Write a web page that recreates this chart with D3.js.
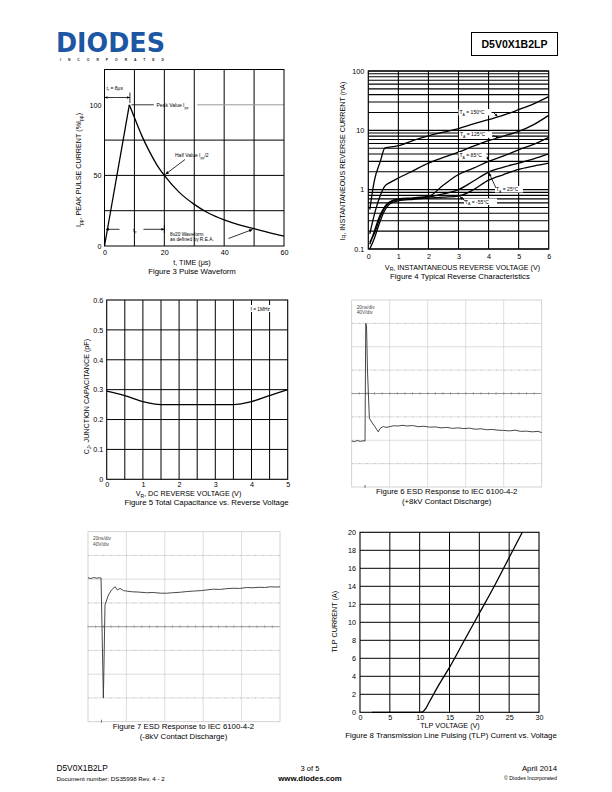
<!DOCTYPE html>
<html><head><meta charset="utf-8">
<script src="https://cdn.jsdelivr.net/npm/d3@7"></script>
<style>
html,body{margin:0;padding:0;background:#fff}
svg{display:block;font-family:"Liberation Sans",Arial,sans-serif}
</style></head><body>
<svg id="page" width="612" height="792"></svg>
<script>
// ---------- DATA ----------
// Figure 3 Pulse waveform
const pulseTime = [0, 8.3, 10, 12.5, 15, 17.5, 20, 25, 30, 35, 40, 45, 50, 55, 60];
const pulseCurrent = [0, 100, 91, 78, 67, 57.5, 50, 38, 29.5, 23, 18.5, 15, 12.3, 9.5, 7];
const fig3XTicks = [0, 20, 40, 60];
const fig3YTicks = [0, 50, 100];

// Figure 4 Reverse characteristics (nA)
const revVoltage = [0.05, 0.2, 0.4, 0.55, 0.7, 1, 1.5, 2, 2.5, 3, 3.5, 4, 4.5, 5, 5.5, 6];
const irT150 = [0.46, 1.4, 3.0, 5.0, 5.2, 5.5, 6.8, 8.1, 9.3, 10.7, 12.8, 15.1, 18, 22.3, 28, 37];
const irT125 = [0.18, 0.38, 0.8, 1.15, 1.3, 1.57, 2.1, 2.8, 3.5, 4.3, 5.4, 6.7, 8, 9.6, 12.5, 17.9];
const irT85 = [0.12, 0.2, 0.38, 0.52, 0.62, 0.7, 0.73, 0.77, 1.2, 1.8, 2.3, 3.0, 3.7, 4.7, 5.8, 7.6];
const irT25 = [0.13, 0.18, 0.35, 0.5, 0.6, 0.68, 0.71, 0.75, 0.85, 1.0, 1.4, 1.98, 2.4, 2.8, 3.3, 4.0];
const irTm55 = [0.1, 0.15, 0.3, 0.45, 0.57, 0.65, 0.69, 0.72, 0.75, 0.78, 1.0, 1.45, 1.8, 2.2, 2.5, 2.8];
const tempLabels = ["150°C", "125°C", "85°C", "25°C", "-55°C"];
const fig4XTicks = [0, 1, 2, 3, 4, 5, 6];
const fig4YTicks = [0.1, 1, 10, 100];

// Figure 5 Capacitance
const capVoltage = [0, 0.5, 1, 1.5, 2, 2.5, 3, 3.5, 4, 4.5, 5];
const capValue = [0.295, 0.28, 0.26, 0.25, 0.25, 0.25, 0.25, 0.25, 0.26, 0.28, 0.30];
const fig5XTicks = [0, 1, 2, 3, 4, 5];
const fig5YTicks = [0, 0.1, 0.2, 0.3, 0.4, 0.5, 0.6];

// Figure 6 ESD +8kV (time ns, divisions)
const esdPosTime = [0, 1.5, 3, 4.5, 6, 7, 7.4, 7.8, 8.3, 9.3, 10.5, 12.3, 14, 14.9, 16.6, 18, 20, 22, 24.5, 27, 29, 32, 35, 38, 41, 44, 47, 50, 53, 56, 59, 62, 65, 68, 71, 74, 77, 80, 83, 86, 89, 92, 95, 98, 100];
const esdPosVolt = [-2.03, -2.06, -2.01, -2.05, -2.02, -2.04, 3.0, 2.9, 1.0, -1.07, -1.22, -1.43, -1.64, -1.5, -1.41, -1.45, -1.42, -1.38, -1.39, -1.36, -1.39, -1.37, -1.42, -1.4, -1.44, -1.43, -1.47, -1.45, -1.49, -1.47, -1.5, -1.48, -1.53, -1.51, -1.55, -1.54, -1.57, -1.58, -1.6, -1.57, -1.62, -1.61, -1.64, -1.62, -1.67];

// Figure 7 ESD -8kV (time ns, divisions)
const esdNegTime = [0, 1.5, 3, 4.5, 6, 6.8, 7.3, 8.0, 8.3, 8.85, 10.6, 12.3, 14.1, 15.3, 16.7, 18.5, 20.1, 23, 26, 30.5, 34, 38, 41, 44, 48, 51.4, 55, 59, 62, 65.3, 69, 72, 76, 79, 82.6, 86, 89, 92, 95, 98, 100];
const esdNegVolt = [2.06, 2.03, 2.07, 2.04, 2.06, 2.05, -0.07, -3.0, -1.75, 0.91, 1.33, 1.55, 1.68, 1.55, 1.61, 1.52, 1.5, 1.47, 1.46, 1.43, 1.44, 1.41, 1.41, 1.43, 1.45, 1.48, 1.5, 1.52, 1.55, 1.58, 1.57, 1.6, 1.62, 1.61, 1.65, 1.64, 1.66, 1.65, 1.68, 1.67, 1.68];

// Figure 8 TLP
const tlpVoltage = [2, 10, 10.5, 11, 11.5, 12, 13, 14, 15, 17.5, 20, 22.5, 25, 27.2];
const tlpCurrent = [0, 0, 0.05, 0.4, 1.0, 1.6, 2.8, 3.9, 5, 8, 11, 14, 17.2, 20];
const fig8XTicks = [0, 5, 10, 15, 20, 25, 30];
const fig8YTicks = [0, 2, 4, 6, 8, 10, 12, 14, 16, 18, 20];

// ---------- DRAWING ----------
const svg = d3.select("#page");
svg.append("rect").attr("width", 612).attr("height", 792).attr("fill", "#fff");
const FONT = '"Liberation Sans", Arial, sans-serif';
const FS = 7.2;
const CAP = 7.8;
const intFmt = d3.format("d");

function styleAxis(g, fs) {
  g.attr("font-family", FONT).attr("font-size", fs);
  g.select(".domain").remove();
  g.selectAll(".tick line").remove();
  g.selectAll(".tick text").attr("fill", "#000");
}
function text(x, y, str, opts = {}) {
  const t = svg.append("text").attr("x", x).attr("y", y)
    .attr("font-size", opts.size || FS).attr("fill", opts.fill || "#000")
    .attr("text-anchor", opts.anchor || "start")
    .attr("font-family", FONT);
  if (opts.weight) t.attr("font-weight", opts.weight);
  if (opts.rotate) t.attr("transform", `rotate(-90,${x},${y})`);
  if (opts.parts) {
    opts.parts.forEach(p => {
      const ts = t.append("tspan").text(p.t);
      if (p.sub) ts.attr("font-size", (opts.size || FS) * 0.7).attr("dy", 1.6);
      if (p.back) ts.attr("dy", -1.6);
    });
  } else t.text(str);
  return t;
}
function arrowHead(g, x1, y1, x2, y2, size) {
  const a = Math.atan2(y2 - y1, x2 - x1);
  const s = size || 3;
  const p = [[x2, y2],
    [x2 - s * Math.cos(a) + s * 0.45 * Math.sin(a), y2 - s * Math.sin(a) - s * 0.45 * Math.cos(a)],
    [x2 - s * Math.cos(a) - s * 0.45 * Math.sin(a), y2 - s * Math.sin(a) + s * 0.45 * Math.cos(a)]];
  g.append("path").attr("d", "M" + p.map(d => d.join(",")).join("L") + "Z").attr("fill", "#000");
}
function arrowLine(g, x1, y1, x2, y2, size, w) {
  g.append("line").attr("x1", x1).attr("y1", y1).attr("x2", x2).attr("y2", y2)
    .attr("stroke", "#000").attr("stroke-width", w || 0.8);
  arrowHead(g, x1, y1, x2, y2, size);
}

// ---- Header ----
svg.append("text").attr("x", 56).attr("y", 51.5).text("DIODES")
  .attr("font-family", '"DejaVu Sans", sans-serif').attr("font-weight", "bold")
  .attr("font-size", 27).attr("fill", "#1d56a3")
  .attr("textLength", 109).attr("lengthAdjust", "spacingAndGlyphs");
svg.append("text").attr("x", 60).attr("y", 60.5).text("INCORPORATED")
  .attr("font-family", FONT).attr("font-weight", "bold").attr("font-size", 3.4).attr("fill", "#222")
  .attr("textLength", 104).attr("lengthAdjust", "spacing");
svg.append("rect").attr("x", 471.5).attr("y", 32.5).attr("width", 86).attr("height", 23)
  .attr("fill", "none").attr("stroke", "#000").attr("stroke-width", 1);
text(514.5, 48, "D5V0X1B2LP", { size: 10.5, weight: "bold", anchor: "middle" });

// ---- Figure 3 ----
{
  const x = d3.scaleLinear().domain([0, 60]).range([104.5, 284]);
  const y = d3.scaleLinear().domain([0, 125]).range([246, 69.5]);
  const g = svg.append("g");
  [10, 20, 30, 40, 50].forEach(v => g.append("line").attr("x1", x(v)).attr("x2", x(v)).attr("y1", y(0)).attr("y2", y(125)).attr("stroke", "#000").attr("stroke-width", 1));
  [25, 50, 75].forEach(v => g.append("line").attr("x1", x(0)).attr("x2", x(60)).attr("y1", y(v)).attr("y2", y(v)).attr("stroke", "#000").attr("stroke-width", 1));
  g.append("line").attr("x1", x(9)).attr("x2", x(16.5)).attr("y1", y(100)).attr("y2", y(100)).attr("stroke", "#000").attr("stroke-width", 0.8);
  g.append("line").attr("x1", x(31)).attr("x2", x(60)).attr("y1", y(100)).attr("y2", y(100)).attr("stroke", "#999").attr("stroke-width", 1);
  g.append("rect").attr("x", x(0)).attr("y", y(125)).attr("width", x(60) - x(0)).attr("height", y(0) - y(125)).attr("fill", "none").attr("stroke", "#000").attr("stroke-width", 1);
  const pts = pulseTime.map((t, i) => [t, pulseCurrent[i]]);
  const line = d3.line().x(d => x(d[0])).y(d => y(d[1]));
  g.append("path").attr("d", line(pts.slice(0, 2))).attr("fill", "none").attr("stroke", "#000").attr("stroke-width", 1.3);
  g.append("path").attr("d", line.curve(d3.curveMonotoneX)(pts.slice(1))).attr("fill", "none").attr("stroke", "#000").attr("stroke-width", 1.3);
  svg.append("g").attr("transform", `translate(0,${y(0)})`).call(d3.axisBottom(x).tickValues(fig3XTicks).tickFormat(intFmt).tickSize(0).tickPadding(4)).call(a => styleAxis(a, FS));
  svg.append("g").attr("transform", `translate(${x(0)},0)`).call(d3.axisLeft(y).tickValues(fig3YTicks).tickFormat(intFmt).tickSize(0).tickPadding(3)).call(a => styleAxis(a, FS));
  const an = svg.append("g");
  text(106.5, 89.5, null, { size: 5, parts: [{ t: "t" }, { t: "r", sub: true }, { t: " = 8μs", back: true }] });
  arrowLine(an, x(4), 97.5, x(0), 97.5, 3);
  arrowLine(an, x(4), 97.5, x(8.5), 97.5, 3);
  an.append("line").attr("x1", x(8.5)).attr("x2", x(8.5)).attr("y1", 92.5).attr("y2", 103).attr("stroke", "#000").attr("stroke-width", 0.8);
  text(156.5, 107, null, { size: 5, parts: [{ t: "Peak Value I" }, { t: "pp", sub: true }] });
  text(175, 157, null, { size: 5, parts: [{ t: "Half Value I" }, { t: "pp", sub: true }, { t: "/2", back: true }] });
  arrowLine(an, 185, 159.5, x(20) + 1, y(50) - 1, 3.5);
  arrowLine(an, x(5), 229.3, x(0.5), 229.3, 3);
  arrowLine(an, x(13), 229.3, x(20), 229.3, 3);
  an.append("line").attr("x1", x(20)).attr("x2", x(20)).attr("y1", 225).attr("y2", 233).attr("stroke", "#000").attr("stroke-width", 0.8);
  text(133, 231.5, null, { size: 5, parts: [{ t: "t" }, { t: "p", sub: true }] });
  text(170, 236.3, "8x20 Waveform", { size: 4.8 });
  text(170, 241, "as defined by R.E.A.", { size: 4.8 });
  arrowLine(an, 228.5, 238.5, x(49.5), y(12.8) + 1.5, 3.5);
  text(81, 170, null, { rotate: true, anchor: "middle", parts: [{ t: "I" }, { t: "pp", sub: true }, { t: ", PEAK PULSE CURRENT (%I", back: true }, { t: "pp", sub: true }, { t: ")", back: true }] });
  text(192, 265.3, "t, TIME (μs)", { anchor: "middle" });
  text(192, 274.2, "Figure 3 Pulse Waveform", { anchor: "middle", size: CAP });
}

// ---- Figure 4 ----
{
  const x = d3.scaleLinear().domain([0, 6]).range([368.3, 548.7]);
  const y = d3.scaleLog().domain([0.1, 100]).range([249, 71]);
  const g = svg.append("g");
  y.ticks().forEach(v => g.append("line").attr("x1", x(0)).attr("x2", x(6)).attr("y1", y(v)).attr("y2", y(v)).attr("stroke", "#000").attr("stroke-width", 1.1));
  [1, 2, 3, 4, 5].forEach(v => g.append("line").attr("x1", x(v)).attr("x2", x(v)).attr("y1", y(0.1)).attr("y2", y(100)).attr("stroke", "#000").attr("stroke-width", 1.1));
  g.append("rect").attr("x", x(0)).attr("y", y(100)).attr("width", x(6) - x(0)).attr("height", y(0.1) - y(100)).attr("fill", "none").attr("stroke", "#000").attr("stroke-width", 1.2);
  const series = [irT150, irT125, irT85, irT25, irTm55];
  const line = d3.line().x((d, i) => x(revVoltage[i])).y(d => y(d)).curve(d3.curveMonotoneX);
  series.forEach(s => g.append("path").attr("d", line(s)).attr("fill", "none").attr("stroke", "#000").attr("stroke-width", 1.3));
  const labs = [
    { x: 459.5, y: 114, ax1: 494, ay1: 113, ax2: x(4.3), ay2: y(16.5) - 1 },
    { x: 460, y: 136.3, ax1: 493, ay1: 135.5, ax2: x(4.35), ay2: y(7.2) - 1 },
    { x: 459.5, y: 157, ax1: 487, ay1: 156.5, ax2: x(4.0), ay2: y(3.0) - 1 },
    { x: 496, y: 191, ax1: 496, ay1: 188, ax2: x(4.0) + 0.5, ay2: y(1.98) + 1 },
    { x: 465, y: 203.5, ax1: 466, ay1: 201.5, ax2: x(3.05), ay2: y(0.79) + 1 }
  ];
  labs.forEach((l, i) => {
    const w = i === 2 || i === 3 ? 28 : 33;
    svg.append("rect").attr("x", l.x - 1).attr("y", l.y - 5).attr("width", w).attr("height", 6.5).attr("fill", "#fff");
    text(l.x, l.y, null, { size: 5, parts: [{ t: "T" }, { t: "A", sub: true }, { t: " = " + tempLabels[i], back: true }] });
    arrowLine(svg, l.ax1, l.ay1, l.ax2, l.ay2, 3);
  });
  svg.append("g").attr("transform", `translate(0,${y(0.1)})`).call(d3.axisBottom(x).tickValues(fig4XTicks).tickFormat(intFmt).tickSize(0).tickPadding(5)).call(a => styleAxis(a, FS));
  svg.append("g").attr("transform", `translate(${x(0)},0)`).call(d3.axisLeft(y).tickValues(fig4YTicks).tickFormat(d3.format("~g")).tickSize(0).tickPadding(4)).call(a => styleAxis(a, FS));
  text(344.5, 161, null, { rotate: true, anchor: "middle", parts: [{ t: "I" }, { t: "R", sub: true }, { t: ", INSTANTANEOUS REVERSE CURRENT (nA)", back: true }] });
  text(462.5, 269.5, null, { anchor: "middle", parts: [{ t: "V" }, { t: "R", sub: true }, { t: ", INSTANTANEOUS REVERSE VOLTAGE (V)", back: true }] });
  text(460, 278.6, "Figure 4 Typical Reverse Characteristics", { anchor: "middle", size: CAP });
}

// ---- Figure 5 ----
{
  const x = d3.scaleLinear().domain([0, 5]).range([106.7, 287.7]);
  const y = d3.scaleLinear().domain([0, 0.6]).range([479.3, 300]);
  const g = svg.append("g");
  d3.range(0.5, 5, 0.5).forEach(v => g.append("line").attr("x1", x(v)).attr("x2", x(v)).attr("y1", y(0)).attr("y2", y(0.6)).attr("stroke", "#000").attr("stroke-width", 1));
  [0.1, 0.2, 0.3, 0.4, 0.5].forEach(v => g.append("line").attr("x1", x(0)).attr("x2", x(5)).attr("y1", y(v)).attr("y2", y(v)).attr("stroke", "#000").attr("stroke-width", 1));
  g.append("rect").attr("x", x(0)).attr("y", y(0.6)).attr("width", x(5) - x(0)).attr("height", y(0) - y(0.6)).attr("fill", "none").attr("stroke", "#000").attr("stroke-width", 1.1);
  g.append("path").attr("d", d3.line().x((d, i) => x(capVoltage[i])).y(d => y(d)).curve(d3.curveMonotoneX)(capValue))
    .attr("fill", "none").attr("stroke", "#000").attr("stroke-width", 1.3);
  g.append("rect").attr("x", 249).attr("y", 305).attr("width", 25).attr("height", 7).attr("fill", "#fff");
  text(250.5, 310.5, "f = 1MHz", { size: 4.8 });
  svg.append("g").attr("transform", `translate(0,${y(0)})`).call(d3.axisBottom(x).tickValues(fig5XTicks).tickFormat(intFmt).tickSize(0).tickPadding(2.6)).call(a => styleAxis(a, FS));
  svg.append("g").attr("transform", `translate(${x(0)},0)`).call(d3.axisLeft(y).tickValues(fig5YTicks).tickFormat(d => d === 0 ? "0" : d3.format(".1f")(d)).tickSize(0).tickPadding(3.5)).call(a => styleAxis(a, FS));
  text(89, 396.5, null, { rotate: true, anchor: "middle", parts: [{ t: "C" }, { t: "J", sub: true }, { t: ", JUNCTION CAPACITANCE (pF)", back: true }] });
  text(188.5, 496, null, { anchor: "middle", parts: [{ t: "V" }, { t: "R", sub: true }, { t: ", DC REVERSE VOLTAGE (V)", back: true }] });
  text(206.5, 504.8, "Figure 5 Total Capacitance vs. Reverse Voltage", { anchor: "middle", size: CAP });
}

// ---- Scope helper ----
function scope(x0, x1, y0, y1, times, volts, trigX) {
  const x = d3.scaleLinear().domain([0, 100]).range([x0, x1]);
  const y = d3.scaleLinear().domain([-4, 4]).range([y1, y0]);
  const g = svg.append("g");
  d3.range(20, 100, 20).forEach(v => g.append("line").attr("x1", x(v)).attr("x2", x(v)).attr("y1", y(-4)).attr("y2", y(4)).attr("stroke", "#d4d4d4").attr("stroke-width", 0.8));
  d3.range(-3, 4, 1).forEach(v => g.append("line").attr("x1", x(0)).attr("x2", x(100)).attr("y1", y(v)).attr("y2", y(v))
    .attr("stroke", v === 0 ? "#8a8a8a" : "#d4d4d4").attr("stroke-width", v === 0 ? 0.9 : 0.8));
  [3, 1, -1, -3].forEach(v => g.append("line").attr("x1", x(0)).attr("x2", x(100)).attr("y1", y(v)).attr("y2", y(v))
    .attr("stroke", "#b0b0b0").attr("stroke-width", 1).attr("stroke-dasharray", "0.8,6.8"));
  d3.range(0, 100, 4).forEach(v => g.append("line").attr("x1", x(v)).attr("x2", x(v)).attr("y1", y(0) - 1.5).attr("y2", y(0) + 1.5).attr("stroke", "#8a8a8a").attr("stroke-width", 0.6));
  g.append("rect").attr("x", x(0)).attr("y", y(4)).attr("width", x(100) - x(0)).attr("height", y(-4) - y(4)).attr("fill", "none").attr("stroke", "#c8c8c8").attr("stroke-width", 0.8);
  g.append("line").attr("x1", x(trigX)).attr("x2", x(trigX)).attr("y1", y(-4) - 2).attr("y2", y(-4) + 1).attr("stroke", "#555").attr("stroke-width", 0.8);
  g.append("path").attr("d", d3.line().x((d, i) => x(times[i])).y(d => y(d))(volts))
    .attr("fill", "none").attr("stroke", "#333").attr("stroke-width", 0.9);
  text(x0 + 5, y0 + 8.5, "20ns/div", { size: 4.8, fill: "#444" });
  text(x0 + 5, y0 + 14, "40V/div", { size: 4.8, fill: "#444" });
}
scope(351.7, 541.7, 300, 487, esdPosTime, esdPosVolt, 7);
text(446.7, 494.4, "Figure 6 ESD Response to IEC 6100-4-2", { anchor: "middle", size: CAP });
text(446.7, 503.6, "(+8kV Contact Discharge)", { anchor: "middle", size: CAP });
scope(88, 280, 531.7, 721.7, esdNegTime, esdNegVolt, 7);
text(183.5, 729.4, "Figure 7 ESD Response to IEC 6100-4-2", { anchor: "middle", size: CAP });
text(183.5, 738.6, "(-8kV Contact Discharge)", { anchor: "middle", size: CAP });

// ---- Figure 8 ----
{
  const x = d3.scaleLinear().domain([0, 30]).range([360, 539]);
  const y = d3.scaleLinear().domain([0, 20]).range([712.3, 532.3]);
  const g = svg.append("g");
  [5, 10, 15, 20, 25].forEach(v => g.append("line").attr("x1", x(v)).attr("x2", x(v)).attr("y1", y(0)).attr("y2", y(20)).attr("stroke", "#000").attr("stroke-width", 1));
  d3.range(2, 20, 2).forEach(v => g.append("line").attr("x1", x(0)).attr("x2", x(30)).attr("y1", y(v)).attr("y2", y(v)).attr("stroke", "#000").attr("stroke-width", 1));
  g.append("rect").attr("x", x(0)).attr("y", y(20)).attr("width", x(30) - x(0)).attr("height", y(0) - y(20)).attr("fill", "none").attr("stroke", "#000").attr("stroke-width", 1.1);
  g.append("path").attr("d", d3.line().x((d, i) => x(tlpVoltage[i])).y(d => y(d)).curve(d3.curveMonotoneX)(tlpCurrent))
    .attr("fill", "none").attr("stroke", "#000").attr("stroke-width", 1.3);
  svg.append("g").attr("transform", `translate(0,${y(0)})`).call(d3.axisBottom(x).tickValues(fig8XTicks).tickFormat(intFmt).tickSize(0).tickPadding(2.5)).call(a => styleAxis(a, FS));
  svg.append("g").attr("transform", `translate(${x(0)},0)`).call(d3.axisLeft(y).tickValues(fig8YTicks).tickFormat(intFmt).tickSize(0).tickPadding(4)).call(a => styleAxis(a, FS));
  text(337, 621.7, "TLP CURRENT (A)", { rotate: true, anchor: "middle" });
  text(450, 728, "TLP VOLTAGE (V)", { anchor: "middle" });
  text(451, 737.8, "Figure 8 Transmission Line Pulsing (TLP) Current vs. Voltage", { anchor: "middle", size: CAP });
}

// ---- Footer ----
text(56.5, 771, "D5V0X1B2LP", { size: 8.3 });
text(56.5, 780.5, "Document number: DS35998 Rev. 4 - 2", { size: 6.2 });
text(310, 770.5, "3 of 5", { size: 7.5, anchor: "middle" });
text(310, 780.5, "www.diodes.com", { size: 7.8, weight: "bold", anchor: "middle" });
text(557, 770.5, "April 2014", { size: 7.8, anchor: "end" });
text(557, 780, "© Diodes Incorporated", { size: 5.3, anchor: "end" });
</script>
</body></html>
